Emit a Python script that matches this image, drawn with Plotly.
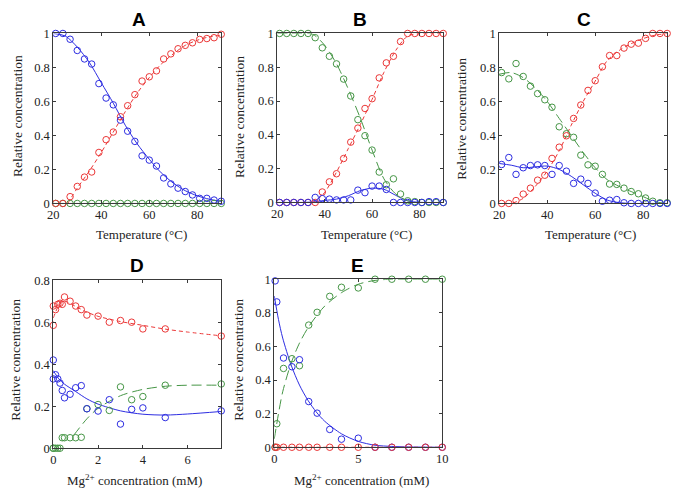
import plotly.graph_objects as go

# ---------------- data ----------------
T = [21, 24, 27, 30, 33, 36, 39, 42, 45, 48, 51, 54, 57, 60, 63, 66, 69, 72, 75, 78, 81, 84, 87, 90]
TF = [20, 25, 30, 35, 40, 45, 50, 55, 60, 65, 70, 75, 80, 85, 90]

A_blue = [1.0, 1.0, 0.966, 0.90, 0.85, 0.82, 0.705, 0.62, 0.58, 0.49, 0.425, 0.365, 0.28, 0.255, 0.22, 0.15,
          0.115, 0.09, 0.07, 0.05, 0.03, 0.03, 0.02, 0.013]
A_red = [0, 0, 0.04, 0.10, 0.155, 0.185, 0.30, 0.375, 0.42, 0.51, 0.575, 0.64, 0.72, 0.745, 0.78, 0.85,
         0.88, 0.91, 0.93, 0.945, 0.965, 0.97, 0.975, 0.995]
A_green = [0] * 24
A_blue_fit = [1.0, 0.985, 0.92, 0.83, 0.71, 0.59, 0.46, 0.35, 0.26, 0.18, 0.12, 0.075, 0.045, 0.025, 0.012]
A_red_fit_x = [26, 30, 35, 40, 45, 50, 55, 60, 65, 70, 75, 80, 85, 90]
A_red_fit = [0.0, 0.09, 0.19, 0.30, 0.42, 0.54, 0.65, 0.74, 0.82, 0.88, 0.93, 0.96, 0.98, 0.99]
A_green_fit = [0] * 15

B_blue = [0, 0, 0, 0, 0, 0.03, 0.023, 0.02, 0.015, 0.015, 0.015, 0.073, 0.058, 0.097, 0.097, 0.077,
          0, 0, 0, 0, 0, 0.005, 0.005, 0]
B_red = [0, 0, 0, 0, 0, 0, 0.062, 0.122, 0.17, 0.26, 0.357, 0.44, 0.556, 0.614, 0.737, 0.826,
         0.865, 0.952, 1, 1, 1, 1, 1, 1]
B_green = [1, 1, 1, 1, 1, 0.975, 0.915, 0.865, 0.82, 0.73, 0.63, 0.49, 0.395, 0.31, 0.18, 0.105,
           0.14, 0.05, 0.01, 0.005, 0, 0, 0, 0]
B_blue_fit = [0, 0, 0, 0.003, 0.012, 0.02, 0.04, 0.07, 0.085, 0.078, 0.042, 0.01, 0.001, 0, 0]
B_red_fit = [0, 0, 0, 0, 0.06, 0.18, 0.32, 0.46, 0.61, 0.77, 0.9, 0.985, 1, 1, 1]
B_green_fit = [1, 1, 1, 0.995, 0.93, 0.82, 0.67, 0.5, 0.31, 0.14, 0.05, 0.01, 0, 0, 0]

C_blue = [0.229, 0.27, 0.171, 0.21, 0.223, 0.227, 0.223, 0.171, 0.223, 0.19, 0.118, 0.143, 0.118, 0.061,
          0.013, 0.019, 0.023, 0.004, 0, 0, 0, 0, 0, 0]
C_red = [0, 0, 0.017, 0.055, 0.09, 0.137, 0.166, 0.265, 0.331, 0.398, 0.5, 0.579, 0.665, 0.722, 0.804,
         0.87, 0.87, 0.914, 0.937, 0.943, 0.971, 1, 1, 1]
C_green = [0.77, 0.733, 0.823, 0.747, 0.69, 0.646, 0.61, 0.566, 0.451, 0.41, 0.389, 0.284, 0.227, 0.219,
           0.171, 0.114, 0.112, 0.09, 0.07, 0.057, 0.032, 0.013, 0.004, 0.004]
C_blue_fit = [0.235, 0.225, 0.21, 0.215, 0.22, 0.2, 0.16, 0.11, 0.06, 0.02, 0.005, 0, 0, 0, 0]
C_red_fit = [0, 0, 0.03, 0.1, 0.19, 0.31, 0.46, 0.6, 0.72, 0.84, 0.9, 0.94, 0.97, 0.99, 1]
C_green_fit = [0.76, 0.77, 0.74, 0.68, 0.6, 0.5, 0.4, 0.3, 0.21, 0.14, 0.1, 0.07, 0.04, 0.01, 0]

MG_D = [0, 0, 0.1, 0.2, 0.3, 0.4, 0.5, 0.75, 1, 1.25, 1.5, 2, 2.5, 3, 3.5, 4, 5, 7.5]
D_red = [0.585, 0.677, 0.66, 0.685, 0.69, 0.685, 0.72, 0.70, 0.677, 0.66, 0.634, 0.629, 0.6, 0.608, 0.6,
         0.568, 0.568, 0.534]
D_blue = [0.42, 0.33, 0.35, 0.33, 0.31, 0.275, 0.24, 0.257, 0.288, 0.298, 0.188, 0.177, 0.231, 0.115,
          0.185, 0.192, 0.146, 0.178]
D_green = [0, 0, 0, 0, 0, 0.05, 0.05, 0.05, 0.05, 0.052, 0.188, 0.208, 0.18, 0.292, 0.231, 0.246, 0.3, 0.306]
DF = [0, 0.25, 0.5, 1, 1.5, 2, 3, 4, 5, 6, 7.5]
D_red_fit = [0.62, 0.68, 0.70, 0.675, 0.648, 0.628, 0.603, 0.585, 0.567, 0.553, 0.535]
D_blue_fit = [0.37, 0.33, 0.305, 0.27, 0.235, 0.21, 0.178, 0.162, 0.158, 0.163, 0.175]
DGF = [0.9, 1.5, 2, 3, 4, 5, 6, 7.5]
D_green_fit = [0.06, 0.14, 0.19, 0.25, 0.28, 0.295, 0.3, 0.3]

MG_E = [0.05, 0.15, 0.55, 1.05, 1.5, 2.05, 2.55, 3.3, 4, 5, 6, 7, 8, 9, 10]
E_blue = [0.99, 0.865, 0.531, 0.479, 0.521, 0.272, 0.203, 0.106, 0.048, 0.054, 0, 0, 0, 0, 0]
E_green = [0, 0.14, 0.469, 0.527, 0.485, 0.727, 0.803, 0.898, 0.952, 0.948, 1, 1, 1, 1, 1]
E_red = [0] * 15
EF = [0, 0.25, 0.5, 1, 1.5, 2, 2.5, 3, 4, 5, 6, 7, 8, 10]
E_blue_fit = [0.9, 0.76, 0.65, 0.49, 0.37, 0.28, 0.21, 0.155, 0.08, 0.035, 0.012, 0.005, 0.002, 0]
E_green_fit = [0.05, 0.2, 0.33, 0.5, 0.62, 0.71, 0.78, 0.84, 0.92, 0.97, 0.993, 1, 1, 1]
E_red_fit = [0] * 14

# ---------------- style ----------------
BLUE = "rgb(45,45,225)"
RED = "rgb(235,55,55)"
GREEN = "rgb(70,150,70)"
SERIF = "Liberation Serif"
OFF = 8                      # page body margin of the html page
W, H = 683 - OFF, 497 - OFF  # figure size so that it fills the visible window

fig = go.Figure()


def pts(x, y, color, ax):
    fig.add_trace(go.Scatter(x=x, y=y, mode="markers", xaxis="x" + ax, yaxis="y" + ax,
                             marker=dict(symbol="circle-open", size=6.5, color=color, line=dict(width=1, color=color)),
                             cliponaxis=False, showlegend=False, hoverinfo="skip"))


def fit(x, y, color, dash, ax):
    fig.add_trace(go.Scatter(x=x, y=y, mode="lines", xaxis="x" + ax, yaxis="y" + ax,
                             line=dict(color=color, width=1, dash=dash, shape="spline", smoothing=0.8),
                             cliponaxis=False, showlegend=False, hoverinfo="skip"))


RD = "4px,3px"
GD = "10px,5px"

# A
fit(TF, A_blue_fit, BLUE, "solid", "")
fit(A_red_fit_x, A_red_fit, RED, RD, "")
fit(TF, A_green_fit, GREEN, GD, "")
pts(T, A_green, GREEN, "")
pts(T, A_red, RED, "")
pts(T, A_blue, BLUE, "")
# B
fit(TF, B_blue_fit, BLUE, "solid", "2")
fit(TF, B_red_fit, RED, RD, "2")
fit(TF, B_green_fit, GREEN, GD, "2")
pts(T, B_green, GREEN, "2")
pts(T, B_red, RED, "2")
pts(T, B_blue, BLUE, "2")
# C
fit(TF, C_blue_fit, BLUE, "solid", "3")
fit(TF, C_red_fit, RED, RD, "3")
fit(TF, C_green_fit, GREEN, GD, "3")
pts(T, C_green, GREEN, "3")
pts(T, C_red, RED, "3")
pts(T, C_blue, BLUE, "3")
# D
fit(DF, D_blue_fit, BLUE, "solid", "4")
fit(DF, D_red_fit, RED, RD, "4")
fit(DGF, D_green_fit, GREEN, GD, "4")
pts(MG_D, D_green, GREEN, "4")
pts(MG_D, D_red, RED, "4")
pts(MG_D, D_blue, BLUE, "4")
# E
fit(EF, E_blue_fit, BLUE, "solid", "5")
fit(EF, E_green_fit, GREEN, GD, "5")
fit(EF, E_red_fit, RED, RD, "5")
pts(MG_E, E_green, GREEN, "5")
pts(MG_E, E_blue, BLUE, "5")
pts(MG_E, E_red, RED, "5")


def px_x(px):
    return (px - OFF) / W


def px_y(py):
    return 1 - (py - OFF) / H


axis_common = dict(showline=True, linecolor="#3a3a3a", linewidth=1, mirror="ticks", ticks="inside",
                   ticklen=3, tickcolor="#3a3a3a", showgrid=False, zeroline=False,
                   tickfont=dict(family=SERIF, size=12.5, color="#222"))

panels = {
    "": dict(x=(48, 219), y=(27, 202), xr=[20, 90], yr=[0, 1], xt=[20, 40, 60, 80], yt=[0, 0.2, 0.4, 0.6, 0.8, 1]),
    "2": dict(x=(276, 445), y=(27, 201), xr=[20, 90], yr=[0, 1], xt=[20, 40, 60, 80], yt=[0, 0.2, 0.4, 0.6, 0.8, 1]),
    "3": dict(x=(502, 673), y=(27, 202), xr=[20, 90], yr=[0, 1], xt=[20, 40, 60, 80], yt=[0, 0.2, 0.4, 0.6, 0.8, 1]),
    "4": dict(x=(48, 219), y=(281, 454), xr=[0, 7.5], yr=[0, 0.8], xt=[0, 2, 4, 6], yt=[0, 0.2, 0.4, 0.6, 0.8]),
    "5": dict(x=(273, 444), y=(280, 453), xr=[0, 10], yr=[0, 1], xt=[0, 5, 10], yt=[0, 0.2, 0.4, 0.6, 0.8, 1]),
}

layout = dict(width=W, height=H, margin=dict(l=0, r=0, t=0, b=0), paper_bgcolor="white",
              plot_bgcolor="white", showlegend=False, font=dict(family=SERIF, size=13, color="#222"))
for k, p in panels.items():
    layout["xaxis" + k] = dict(axis_common, domain=[px_x(p["x"][0]), px_x(p["x"][1])], range=p["xr"],
                               tickvals=p["xt"], anchor="y" + k)
    layout["yaxis" + k] = dict(axis_common, domain=[px_y(p["y"][1]), px_y(p["y"][0])], range=p["yr"],
                               tickvals=p["yt"], anchor="x" + k)
fig.update_layout(**layout)

ann = []
titles = [("A", 135, 13), ("B", 360, 13), ("C", 588, 13), ("D", 133, 266), ("E", 358, 266)]
for t, x, y in titles:
    ann.append(dict(text="<b>%s</b>" % t, x=px_x(x), y=px_y(y), xref="paper", yref="paper", showarrow=False,
                    font=dict(family="Liberation Sans", size=19, color="black"),
                    xanchor="center", yanchor="middle"))
ylabs = [(11, 112), (238, 113), (464, 115), (10, 363), (237, 363)]
for x, y in ylabs:
    ann.append(dict(text="Relative concentration", x=px_x(x), y=px_y(y), xref="paper", yref="paper",
                    showarrow=False, textangle=-90, font=dict(family=SERIF, size=13.5, color="#222"),
                    xanchor="center", yanchor="middle"))
xlabs = [("Temperature (°C)", 138, 234), ("Temperature (°C)", 367, 234), ("Temperature (°C)", 595, 234),
         ("Mg<sup>2+</sup> concentration (mM)", 131, 487), ("Mg<sup>2+</sup> concentration (mM)", 362, 487)]
for t, x, y in xlabs:
    ann.append(dict(text=t, x=px_x(x), y=px_y(y), xref="paper", yref="paper", showarrow=False,
                    font=dict(family=SERIF, size=13, color="#222"), xanchor="center", yanchor="middle"))
fig.update_layout(annotations=ann)

fig.write_html("out.html")
